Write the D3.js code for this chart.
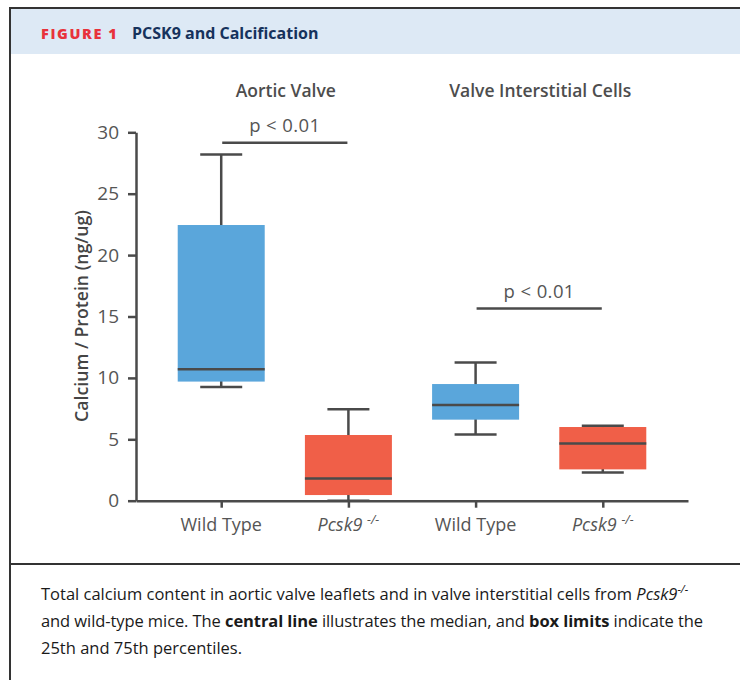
<!DOCTYPE html>
<html>
<head>
<meta charset="utf-8">
<script src="https://cdn.jsdelivr.net/npm/d3@7"></script>
<style>
  body { margin: 0; background: #fff; }
  svg text { font-family: "Open Sans", "Noto Sans", sans-serif; }
</style>
</head>
<body>
<svg id="fig" width="740" height="680"></svg>
<script>
// data
let groups = ["Aortic Valve", "Valve Interstitial Cells"]
let categories = ["AV-WT", "AV-KO", "VIC-WT", "VIC-KO"]
let catLabels = ["Wild Type", "Pcsk9", "Wild Type", "Pcsk9"]
let catKO = [false, true, false, true]
let whiskerLow = [9.25, 0.0, 5.4, 2.3]
let q1 = [9.7, 0.46, 6.6, 2.55]
let median = [10.7, 1.8, 7.8, 4.65]
let q3 = [22.45, 5.35, 9.5, 6.0]
let whiskerHigh = [28.2, 7.45, 11.25, 6.1]
let yTicks = [0, 5, 10, 15, 20, 25, 30]
let pFrom = [0, 2]
let pTo = [1, 3]
let pLevel = [29.15, 15.65]
let pText = ["p < 0.01", "p < 0.01"]

let blue = "#5aa6db"
let red = "#f05f48"
let ink = "#4a4a4a"

let svg = d3.select("#fig")

// header band and frame
svg.append("rect").attr("x", 10).attr("y", 8).attr("width", 740).attr("height", 46).attr("fill", "#dde9f5")
svg.append("line").attr("x1", 9).attr("x2", 740).attr("y1", 8).attr("y2", 8).attr("stroke", "#333").attr("stroke-width", 2)
svg.append("line").attr("x1", 10).attr("x2", 10).attr("y1", 7).attr("y2", 680).attr("stroke", "#333").attr("stroke-width", 2)
svg.append("line").attr("x1", 9).attr("x2", 740).attr("y1", 564).attr("y2", 564).attr("stroke", "#333").attr("stroke-width", 2)

svg.append("text").attr("x", 41).attr("y", 39)
  .attr("fill", "#e8323b").attr("font-size", 14.5).attr("font-weight", 800).attr("letter-spacing", 1.6)
  .text("FIGURE 1")
svg.append("text").attr("x", 132).attr("y", 39)
  .attr("fill", "#16325c").attr("font-size", 16).attr("font-weight", 700)
  .text("PCSK9 and Calcification")

// scales
let x = d3.scalePoint().domain(categories).range([136, 688]).padding(0.67)
let y = d3.scaleLinear().domain([0, 30]).range([500.7, 132.3])
let boxW = 87
let capW = 42

// boxes (drawn under the axes)
let boxes = svg.selectAll(".box").data(categories).enter().append("g").attr("class", "box")

boxes.append("line")
  .attr("x1", d => x(d)).attr("x2", d => x(d))
  .attr("y1", (d, i) => y(whiskerHigh[i])).attr("y2", (d, i) => y(whiskerLow[i]))
  .attr("stroke", ink).attr("stroke-width", 2.5)
boxes.append("line")
  .attr("x1", d => x(d) - capW / 2).attr("x2", d => x(d) + capW / 2)
  .attr("y1", (d, i) => y(whiskerHigh[i])).attr("y2", (d, i) => y(whiskerHigh[i]))
  .attr("stroke", ink).attr("stroke-width", 2.5)
boxes.append("line")
  .attr("x1", d => x(d) - capW / 2).attr("x2", d => x(d) + capW / 2)
  .attr("y1", (d, i) => y(whiskerLow[i])).attr("y2", (d, i) => y(whiskerLow[i]))
  .attr("stroke", ink).attr("stroke-width", 2.5)
boxes.append("rect")
  .attr("x", d => x(d) - boxW / 2).attr("width", boxW)
  .attr("y", (d, i) => y(q3[i])).attr("height", (d, i) => y(q1[i]) - y(q3[i]))
  .attr("fill", (d, i) => catKO[i] ? red : blue)
boxes.append("line")
  .attr("x1", d => x(d) - boxW / 2).attr("x2", d => x(d) + boxW / 2)
  .attr("y1", (d, i) => y(median[i])).attr("y2", (d, i) => y(median[i]))
  .attr("stroke", ink).attr("stroke-width", 2.5)

// y axis
let yAxis = svg.append("g").attr("transform", "translate(136,0)")
  .call(d3.axisLeft(y).tickValues(yTicks).tickSize(8).tickSizeOuter(0).tickPadding(9))
yAxis.select(".domain").attr("stroke", ink).attr("stroke-width", 2.5)
yAxis.selectAll(".tick line").attr("stroke", ink).attr("stroke-width", 2.5)
yAxis.selectAll(".tick text").attr("fill", "#555").attr("font-size", 19).attr("font-family", "Open Sans")

// x axis
let xAxis = svg.append("g").attr("transform", `translate(0,${y(0)})`)
  .call(d3.axisBottom(x).tickSize(7).tickSizeOuter(0).tickFormat(""))
xAxis.select(".domain").attr("stroke", ink).attr("stroke-width", 2.5)
xAxis.selectAll(".tick line").attr("stroke", ink).attr("stroke-width", 2.5)

categories.forEach(function (c, i) {
  let t = svg.append("text").attr("x", x(c)).attr("y", 531)
    .attr("text-anchor", "middle").attr("fill", "#555").attr("font-size", 18)
  if (catKO[i]) {
    t.append("tspan").attr("font-style", "italic").text(catLabels[i] + " ")
    t.append("tspan").attr("font-style", "italic").attr("font-size", 12.5).attr("dy", -7).text("-/-")
  } else {
    t.text(catLabels[i])
  }
})

// y label
svg.append("text")
  .attr("transform", `translate(88,316) rotate(-90)`)
  .attr("text-anchor", "middle").attr("fill", "#444").attr("font-size", 17.7).attr("font-weight", 600)
  .text("Calcium / Protein (ng/ug)")

// group titles
groups.forEach(function (g, i) {
  let cx = (x(categories[i * 2]) + x(categories[i * 2 + 1])) / 2
  svg.append("text").attr("x", cx + 1).attr("y", 97)
    .attr("text-anchor", "middle").attr("fill", "#4d4d4d").attr("font-size", 17.5).attr("font-weight", 600)
    .text(g)
})

// significance bars
pLevel.forEach(function (lv, i) {
  let x1 = x(categories[pFrom[i]]) + 1
  let x2 = x(categories[pTo[i]]) - 1
  svg.append("line").attr("x1", x1).attr("x2", x2).attr("y1", y(lv)).attr("y2", y(lv))
    .attr("stroke", ink).attr("stroke-width", 2.5)
  svg.append("text").attr("x", (x1 + x2) / 2).attr("y", y(lv) - 11)
    .attr("text-anchor", "middle").attr("fill", "#555").attr("font-size", 18.5).attr("letter-spacing", 0.4)
    .text(pText[i])
})

// caption
let cap = svg.append("g").attr("font-family", "Lato").attr("font-size", 16.5).attr("fill", "#1a1a1a")
let l1 = cap.append("text").attr("x", 41).attr("y", 600)
l1.append("tspan").text("Total calcium content in aortic valve leaflets and in valve interstitial cells from ")
l1.append("tspan").attr("font-style", "italic").text("Pcsk9")
l1.append("tspan").attr("font-style", "italic").attr("font-size", 11).attr("dy", -7).text("-/-")
let l2 = cap.append("text").attr("x", 41).attr("y", 627).attr("textLength", 662).attr("lengthAdjust", "spacing")
l2.append("tspan").text("and wild-type mice. The ")
l2.append("tspan").attr("font-weight", 700).text("central line")
l2.append("tspan").text(" illustrates the median, and ")
l2.append("tspan").attr("font-weight", 700).text("box limits")
l2.append("tspan").text(" indicate the")
cap.append("text").attr("x", 41).attr("y", 654).text("25th and 75th percentiles.")
</script>
</body>
</html>
